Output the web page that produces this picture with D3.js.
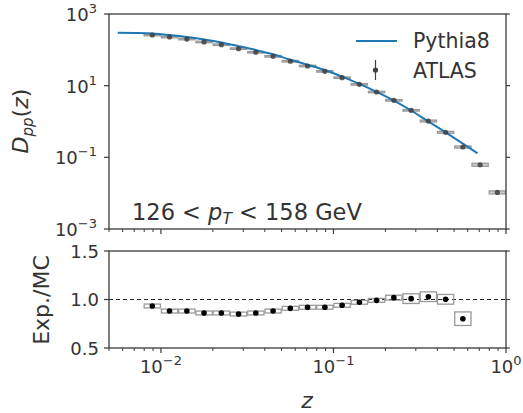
<!DOCTYPE html>
<html><head><meta charset="utf-8">
<script src="https://cdn.jsdelivr.net/npm/d3@7"></script>
<style>body{margin:0;background:#fff}svg{display:block;font-family:"DejaVu Sans",sans-serif}</style>
</head><body>
<svg id="c" width="523" height="413"></svg>
<script>
// Bin centres (z) for ATLAS measurement
const zCenters = [0.00891,0.01122,0.01413,0.01778,0.02239,0.02818,0.03548,0.04467,0.05623,0.07079,0.08913,0.1122,0.1413,0.1778,0.2239,0.2818,0.3548,0.4467,0.5623,0.7079,0.8913];
const zLow     = [0.00794,0.01,0.01259,0.01585,0.01995,0.02512,0.03162,0.03981,0.05012,0.0631,0.07943,0.1,0.1259,0.1585,0.1995,0.2512,0.3162,0.3981,0.5012,0.631,0.7943];
const zHigh    = [0.01,0.01259,0.01585,0.01995,0.02512,0.03162,0.03981,0.05012,0.0631,0.07943,0.1,0.1259,0.1585,0.1995,0.2512,0.3162,0.3981,0.5012,0.631,0.7943,1.0];
const atlasD   = [259,228,200,166,139,108,85.5,66,48,35.4,25.1,16.7,10.9,6.65,3.9,2.05,1.03,0.498,0.194,0.062,0.0105];
const atlasRelErr = [0.05,0.05,0.05,0.05,0.05,0.05,0.05,0.05,0.05,0.05,0.05,0.05,0.05,0.05,0.05,0.05,0.06,0.06,0.07,0.1,0.1];
// Pythia8 curve
const pythiaZ = [0.00562,0.00708,0.00891,0.01122,0.01413,0.01778,0.02239,0.02818,0.03548,0.04467,0.05623,0.07079,0.08913,0.1122,0.1413,0.1778,0.2239,0.2818,0.3548,0.4467,0.5623,0.684];
const pythiaD = [300,295,285,259,229,195,161,127,99,75,53,38.5,27.3,17.8,11.2,6.7,3.83,2.03,1.0,0.497,0.242,0.13];
// Ratio Exp./MC
const ratio    = [0.933,0.881,0.881,0.861,0.861,0.85,0.861,0.881,0.909,0.92,0.92,0.94,0.971,0.991,1.019,1.009,1.029,1.002,0.802];
const ratioErr = [0.02,0.02,0.02,0.02,0.02,0.02,0.02,0.02,0.02,0.02,0.02,0.02,0.02,0.02,0.025,0.05,0.05,0.05,0.07];
const yTopTicks = [1e-3,1e-1,1e1,1e3];
const yTopLabels = ["-3","-1","1","3"];
const yBotTicks = [0.5,1.0,1.5];
const xTicks = [0.01,0.1,1];
const xLabels = ["-2","-1","0"];

const svg = d3.select("#c");
const L=109,R=506,T1=14,B1=229,T2=251,B2=348;
const axisCol="#3a3a3a", textCol="#333";
const x = d3.scaleLog().domain([0.005,1]).range([L,R]);
const y1 = d3.scaleLog().domain([1e-3,1e3]).range([B1,T1]);
const y2 = d3.scaleLinear().domain([0.5,1.5]).range([B2,T2]);

const minorX = [];
[0.001,0.01,0.1].forEach(d=>{for(let k=1;k<=9;k++){const v=d*k; if(v>=0.005&&v<=1&&!xTicks.includes(+v.toFixed(6))) minorX.push(v);}});

function xAxisTicks(yPos, labels){
  const g = svg.append("g");
  g.selectAll("line.maj").data(xTicks).join("line")
    .attr("x1",d=>x(d)).attr("x2",d=>x(d)).attr("y1",yPos).attr("y2",yPos+5)
    .attr("stroke",axisCol).attr("stroke-width",1.2);
  g.selectAll("line.min").data(minorX).join("line").attr("class","min")
    .attr("x1",d=>x(d)).attr("x2",d=>x(d)).attr("y1",yPos).attr("y2",yPos+3)
    .attr("stroke",axisCol).attr("stroke-width",1);
  if(labels){
    xTicks.forEach((d,i)=>{
      const t=g.append("text").attr("x",x(d)).attr("y",yPos+25).attr("text-anchor","middle")
        .attr("font-size",18).attr("fill",textCol);
      t.append("tspan").text("10");
      t.append("tspan").attr("dy",-8).attr("font-size",13).text(xLabels[i].replace("-","\u2212"));
    });
  }
}

// ---------- top panel ----------
svg.append("clipPath").attr("id","cp1").append("rect").attr("x",L).attr("y",T1).attr("width",R-L).attr("height",B1-T1);
const gTop = svg.append("g").attr("clip-path","url(#cp1)");
gTop.selectAll("rect.box").data(atlasD).join("rect")
  .attr("x",(d,i)=>x(zLow[i])+0.5).attr("width",(d,i)=>x(zHigh[i])-x(zLow[i])-1)
  .attr("y",(d,i)=>y1(d*(1+atlasRelErr[i]))).attr("height",(d,i)=>y1(d/(1+atlasRelErr[i]))-y1(d*(1+atlasRelErr[i])))
  .attr("fill","#cfcfcf").attr("stroke","#999").attr("stroke-width",1.3);
gTop.append("path").datum(pythiaZ.map((z,i)=>[z,pythiaD[i]]))
  .attr("d",d3.line().x(d=>x(d[0])).y(d=>y1(d[1])).curve(d3.curveMonotoneX))
  .attr("fill","none").attr("stroke","#1f77b4").attr("stroke-width",2);
gTop.selectAll("circle").data(atlasD).join("circle")
  .attr("cx",(d,i)=>x(zCenters[i])).attr("cy",d=>y1(d)).attr("r",2.6)
  .attr("fill","#404040").attr("opacity",0.85);

svg.append("rect").attr("x",L).attr("y",T1).attr("width",R-L).attr("height",B1-T1)
  .attr("fill","none").attr("stroke",axisCol).attr("stroke-width",1.3);
yTopTicks.forEach((d,i)=>{
  svg.append("line").attr("x1",L-5).attr("x2",L).attr("y1",y1(d)).attr("y2",y1(d)).attr("stroke",axisCol).attr("stroke-width",1.2);
  svg.append("line").attr("x1",R).attr("x2",R+4).attr("y1",y1(d)).attr("y2",y1(d)).attr("stroke",axisCol).attr("stroke-width",1.2);
  const t=svg.append("text").attr("x",L-12).attr("y",y1(d)+7).attr("text-anchor","end").attr("font-size",18).attr("fill",textCol);
  t.append("tspan").text("10");
  t.append("tspan").attr("dy",-8).attr("font-size",13).text(yTopLabels[i].replace("-","\u2212"));
});
xAxisTicks(B1,false);

// legend
svg.append("line").attr("x1",356).attr("x2",397).attr("y1",41).attr("y2",41).attr("stroke","#1f77b4").attr("stroke-width",2);
svg.append("text").attr("x",413).attr("y",48).attr("font-size",20.5).attr("fill",textCol).text("Pythia8");
svg.append("line").attr("x1",375.5).attr("x2",375.5).attr("y1",60).attr("y2",80).attr("stroke","#404040").attr("stroke-width",1.2);
svg.append("circle").attr("cx",375.5).attr("cy",70).attr("r",2.6).attr("fill","#404040");
svg.append("text").attr("x",413).attr("y",78).attr("font-size",20.5).attr("fill",textCol).text("ATLAS");

// annotation
const ann = svg.append("text").attr("x",132).attr("y",220).attr("font-size",22.5).attr("fill",textCol);
ann.append("tspan").text("126 < ");
ann.append("tspan").attr("font-style","italic").text("p");
ann.append("tspan").attr("font-style","italic").attr("font-size",15.5).attr("dy",4).text("T");
ann.append("tspan").attr("dy",-4).text(" < 158 GeV");

// y label top
const yl = svg.append("text").attr("transform","translate(28,121) rotate(-90)").attr("text-anchor","middle").attr("font-size",22).attr("fill",textCol);
yl.append("tspan").attr("font-style","italic").text("D");
yl.append("tspan").attr("font-style","italic").attr("font-size",15).attr("dy",5).text("pp");
yl.append("tspan").attr("dy",-5).text("(");
yl.append("tspan").attr("font-style","italic").text("z");
yl.append("tspan").text(")");

// ---------- bottom panel ----------
svg.append("line").attr("x1",L).attr("x2",R).attr("y1",y2(1)).attr("y2",y2(1))
  .attr("stroke","#222").attr("stroke-width",1.2).attr("stroke-dasharray","4,3");
const gBot = svg.append("g");
gBot.selectAll("rect").data(ratio).join("rect")
  .attr("x",(d,i)=>x(zLow[i])+0.5).attr("width",(d,i)=>x(zHigh[i])-x(zLow[i])-1)
  .attr("y",(d,i)=>y2(d+ratioErr[i])).attr("height",(d,i)=>y2(d-ratioErr[i])-y2(d+ratioErr[i]))
  .attr("fill","none").attr("stroke","#999").attr("stroke-width",1.3);
gBot.selectAll("circle").data(ratio).join("circle")
  .attr("cx",(d,i)=>x(zCenters[i])).attr("cy",d=>y2(d)).attr("r",2.8).attr("fill","#000");
svg.append("rect").attr("x",L).attr("y",T2).attr("width",R-L).attr("height",B2-T2)
  .attr("fill","none").attr("stroke",axisCol).attr("stroke-width",1.3);
yBotTicks.forEach(d=>{
  svg.append("line").attr("x1",L-5).attr("x2",L).attr("y1",y2(d)).attr("y2",y2(d)).attr("stroke",axisCol).attr("stroke-width",1.2);
  svg.append("line").attr("x1",R).attr("x2",R+4).attr("y1",y2(d)).attr("y2",y2(d)).attr("stroke",axisCol).attr("stroke-width",1.2);
  svg.append("text").attr("x",L-10).attr("y",y2(d)+6.5).attr("text-anchor","end").attr("font-size",18).attr("fill",textCol).text(d.toFixed(1));
});
xAxisTicks(B2,true);
svg.append("text").attr("transform","translate(49,300) rotate(-90)").attr("text-anchor","middle").attr("font-size",22).attr("fill",textCol).text("Exp./MC");
svg.append("text").attr("x",307).attr("y",408).attr("text-anchor","middle").attr("font-size",22).attr("font-style","italic").attr("fill",textCol).text("z");
</script>
</body></html>
